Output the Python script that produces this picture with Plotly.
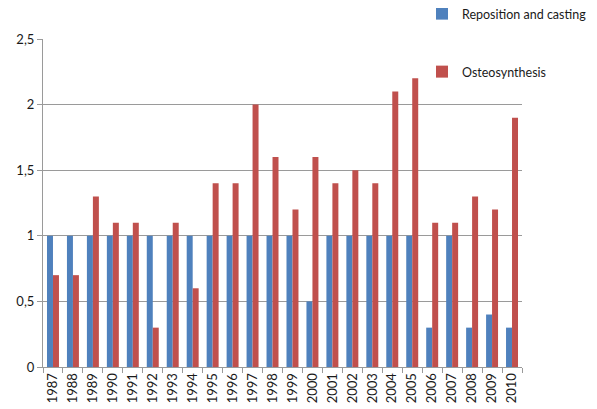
import plotly.graph_objects as go

years = [str(y) for y in range(1987, 2011)]
reposition = [1, 1, 1, 1, 1, 1, 1, 1, 1, 1, 1, 1, 1, 0.5, 1, 1, 1, 1, 1, 0.3, 1, 0.3, 0.4, 0.3]
osteo = [0.7, 0.7, 1.3, 1.1, 1.1, 0.3, 1.1, 0.6, 1.4, 1.4, 2.0, 1.6, 1.2, 1.6, 1.4, 1.5, 1.4, 2.1, 2.2, 1.1, 1.1, 1.3, 1.2, 1.9]
yticks = [0, 0.5, 1, 1.5, 2, 2.5]

fig = go.Figure()
fig.add_trace(go.Bar(x=years, y=reposition, name="Reposition and casting",
                     marker=dict(color="#4F81BD", line=dict(width=0)), legend="legend"))
fig.add_trace(go.Bar(x=years, y=osteo, name="Osteosynthesis",
                     marker=dict(color="#C0504D", line=dict(width=0)), legend="legend2"))

font = dict(family="Lato, Noto Sans, sans-serif", size=13, color="#1a1a1a")
lfont = dict(family="Lato, Noto Sans, sans-serif", size=12.5, color="#1a1a1a")
gcol = "#9a9a9a"
# page body has an 8px margin, so the figure is drawn 8px smaller and offset
W, H = 589, 401
fig.update_layout(
    width=W, height=H,
    showlegend=True,
    margin=dict(l=35, r=75, t=31, b=42, autoexpand=False),
    paper_bgcolor="white", plot_bgcolor="white",
    separators=",.",
    font=font,
    barmode="group", bargap=0.4, bargroupgap=0,
    xaxis=dict(type="category", tickangle=-90, showgrid=False,
               showline=True, linecolor=gcol, linewidth=1,
               ticks="outside", tickson="boundaries", ticklen=5, tickcolor=gcol,
               tickfont=dict(size=13)),
    yaxis=dict(range=[0, 2.5], tickvals=yticks, showgrid=True, gridcolor=gcol,
               gridwidth=1, showline=True, linecolor=gcol, linewidth=1,
               ticks="outside", ticklen=5, tickcolor=gcol, zeroline=False,
               tickfont=dict(size=13)),
    legend=dict(visible=True, x=414 / W, y=1 - 6 / H, xref="container", yref="container",
                xanchor="left", yanchor="middle", bgcolor="rgba(0,0,0,0)", font=lfont,
                itemwidth=30),
    legend2=dict(visible=True, x=414 / W, y=1 - 64 / H, xref="container", yref="container",
                 xanchor="left", yanchor="middle", bgcolor="rgba(0,0,0,0)", font=lfont,
                 itemwidth=30),
)
fig.write_html("out.html")
